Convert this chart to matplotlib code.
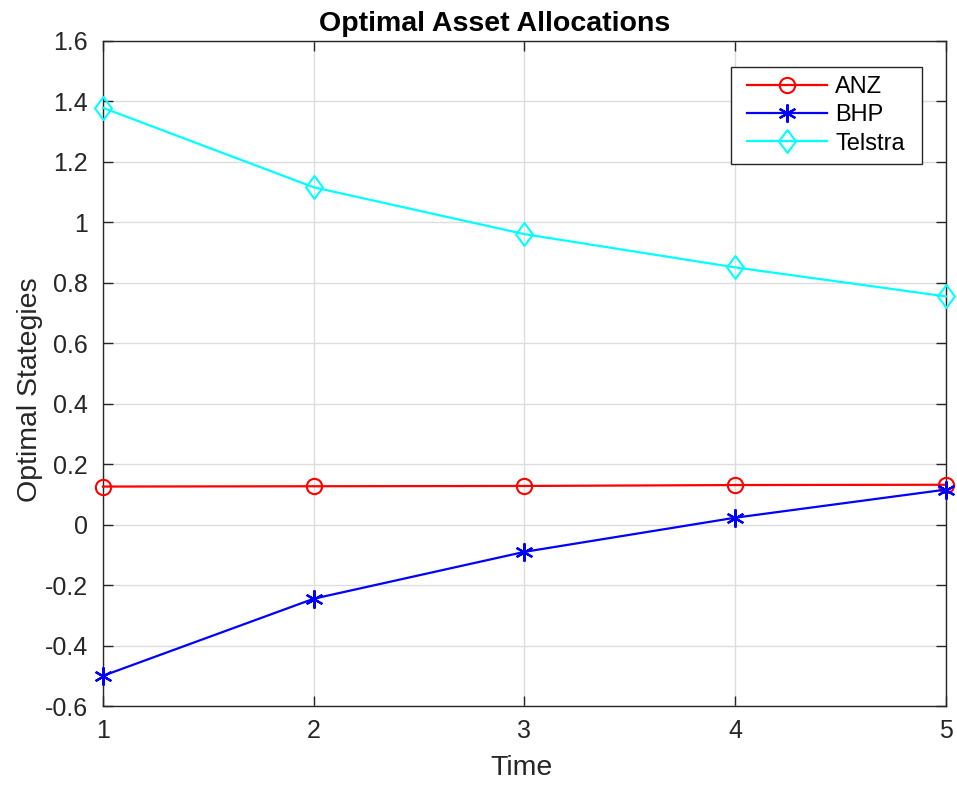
import matplotlib
matplotlib.use("Agg")
import matplotlib.pyplot as plt
from matplotlib.path import Path
from matplotlib.patches import Rectangle
from matplotlib.transforms import IdentityTransform

time = [1, 2, 3, 4, 5]
anz = [0.126, 0.127, 0.128, 0.131, 0.132]
bhp = [-0.50, -0.245, -0.09, 0.023, 0.116]
telstra = [1.379, 1.116, 0.961, 0.851, 0.755]
yticks = [-0.6, -0.4, -0.2, 0, 0.2, 0.4, 0.6, 0.8, 1, 1.2, 1.4, 1.6]
ytick_labels = ["-0.6", "-0.4", "-0.2", "0", "0.2", "0.4", "0.6", "0.8", "1", "1.2", "1.4", "1.6"]

plt.rcParams['font.family'] = ['Liberation Sans', 'DejaVu Sans']

diamond = Path([(0, 1), (0.74, 0), (0, -1), (-0.74, 0), (0, 1)],
               [Path.MOVETO, Path.LINETO, Path.LINETO, Path.LINETO, Path.CLOSEPOLY])

fig = plt.figure(figsize=(9.57, 7.85), dpi=100)
ax = fig.add_axes([0.1076, 0.1006, 0.8809, 0.8472])

ax.plot(time, anz, color='red', marker='o', markersize=11, markerfacecolor='none',
        markeredgewidth=1.5, linewidth=1.6, label='ANZ', clip_on=False, zorder=3)
ax.plot(time, bhp, color='blue', marker=(6, 2, 0), markersize=13,
        markeredgewidth=1.6, linewidth=1.6, label='BHP', clip_on=False, zorder=3)
ax.plot(time, telstra, color='cyan', marker=diamond, markersize=16.5, markerfacecolor='none',
        markeredgewidth=1.5, linewidth=1.6, label='Telstra', clip_on=False, zorder=3)

ax.set_xlim(1, 5)
ax.set_ylim(-0.6, 1.6)
ax.set_xticks(time)
ax.set_yticks(yticks)
ax.set_yticklabels(ytick_labels)
ax.grid(True, color='#dcdcdc', linewidth=1)
ax.set_axisbelow(True)
ax.tick_params(direction='in', length=7, width=1, labelsize=18, colors='#262626',
               top=True, right=True)
ax.tick_params(axis='y', pad=11)
ax.tick_params(axis='x', pad=9)
for s in ax.spines.values():
    s.set_color('#262626')
    s.set_linewidth(1)

ax.set_title('Optimal Asset Allocations', fontsize=20.5, fontweight='bold', pad=7, x=0.464)
ax.set_xlabel('Time', fontsize=20.5, color='#262626', labelpad=9, x=0.496)
ax.set_ylabel('Optimal Stategies', fontsize=20.5, color='#262626', labelpad=1, y=0.476)

leg = ax.legend(loc='upper right', bbox_to_anchor=(0.9625, 0.961), borderaxespad=0,
                fontsize=17, frameon=False, handlelength=3.4, borderpad=0.4,
                labelspacing=0.26, handletextpad=0.35)
leg.set_zorder(6)

fig.canvas.draw()
bb = leg.get_window_extent(fig.canvas.get_renderer())
frame = Rectangle((bb.x0 - 6, bb.y0), bb.width + 14, bb.height,
                  transform=IdentityTransform(), facecolor='white',
                  edgecolor='#262626', linewidth=1, zorder=5, clip_on=False)
ax.add_artist(frame)

fig.savefig('out.png', dpi=100)
